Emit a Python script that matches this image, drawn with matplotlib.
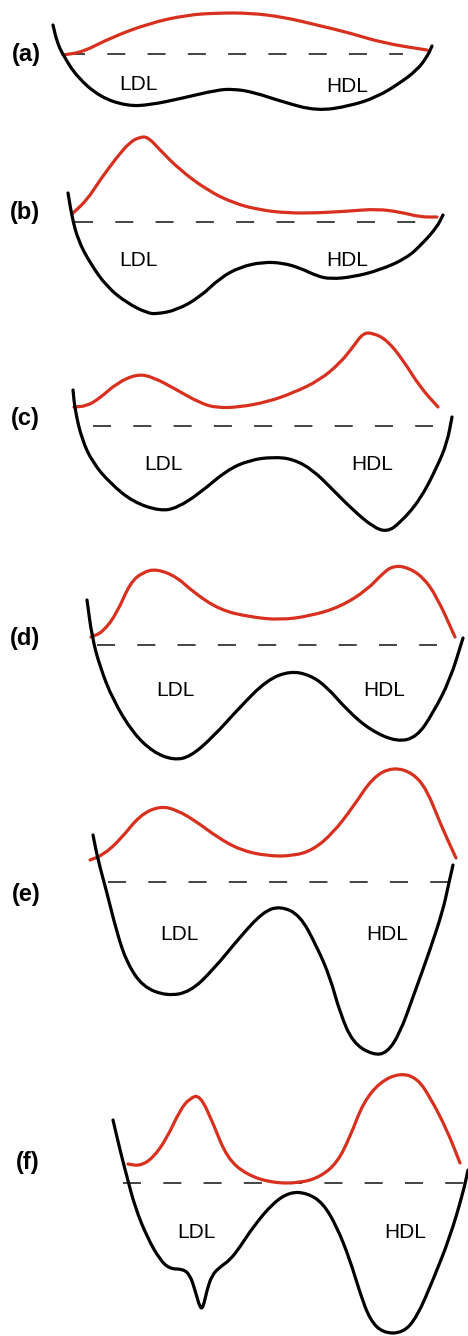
import matplotlib
matplotlib.use('Agg')
import matplotlib.pyplot as plt
from matplotlib.path import Path
from matplotlib.patches import PathPatch
import numpy as np

plt.rcParams['font.family'] = ['Liberation Sans', 'DejaVu Sans']
plt.rcParams['lines.scale_dashes'] = False

COLOR_WELL = "#000000"
COLOR_BARRIER = "#D8301F"

# --- Sketch data (page coordinates, y grows downward) ---
panel_tags = ["(a)", "(b)", "(c)", "(d)", "(e)", "(f)"]
tag_y = [54, 212, 418, 639, 894, 1162]
tag_x = [26, 25, 25, 25, 26, 28]

well_a = [(53, 25), (57, 42), (63, 55), (77, 77), (100, 97), (127, 106), (150, 105),
          (183, 98), (217, 90), (233, 89), (253, 92), (283, 102), (317, 111),
          (350, 106), (377, 97), (400, 83), (417, 70), (427, 57), (432, 46)]
barrier_a = [(63, 55), (83, 52), (110, 38), (150, 23), (187, 15), (217, 13),
             (250, 13), (283, 17), (317, 25), (350, 33), (383, 43), (427, 50)]

well_b = [(68, 193), (72, 217), (78, 240), (90, 263), (107, 287), (127, 303),
          (147, 313), (157, 314), (177, 310), (200, 297), (220, 278), (240, 267),
          (263, 262), (283, 263), (300, 268), (317, 276), (330, 279), (353, 277),
          (380, 270), (407, 258), (423, 243), (437, 227), (443, 215)]
barrier_b = [(73, 213), (87, 200), (100, 180), (117, 157), (130, 142), (140, 137),
             (148, 137), (160, 150), (180, 170), (207, 190), (233, 203), (260, 210),
             (287, 213), (317, 213), (350, 211), (377, 209), (400, 212), (420, 217),
             (437, 217)]

well_c = [(73, 390), (75, 410), (82, 440), (93, 463), (110, 483), (133, 502),
          (160, 511), (177, 508), (200, 493), (227, 470), (250, 460), (273, 457),
          (293, 459), (313, 470), (333, 490), (353, 510), (373, 527), (387, 532),
          (400, 523), (420, 500), (437, 467), (447, 443), (452, 417)]
barrier_c = [(74, 407), (87, 406), (100, 398), (117, 383), (137, 374), (153, 377),
             (177, 390), (200, 403), (217, 408), (240, 407), (267, 402), (293, 393),
             (320, 380), (340, 363), (353, 347), (363, 333), (373, 333), (387, 340),
             (403, 360), (420, 387), (438, 407)]

well_d = [(87, 600), (92, 637), (100, 667), (113, 700), (133, 733), (153, 752),
          (173, 760), (190, 757), (213, 737), (240, 707), (267, 680), (290, 671),
          (310, 675), (327, 687), (347, 710), (370, 730), (397, 742), (417, 737),
          (433, 713), (450, 680), (463, 638)]
barrier_d = [(91, 637), (103, 632), (117, 613), (130, 583), (143, 572), (157, 569),
             (177, 577), (193, 592), (220, 610), (250, 617), (280, 620), (310, 616),
             (340, 607), (367, 590), (383, 573), (393, 566), (407, 567), (423, 577),
             (437, 597), (455, 637)]

well_e = [(93, 835), (98, 860), (107, 893), (117, 933), (127, 963), (143, 987),
          (167, 996), (190, 992), (213, 970), (240, 937), (263, 912), (280, 906),
          (300, 915), (317, 947), (330, 977), (340, 1013), (353, 1043), (373, 1055),
          (387, 1053), (400, 1033), (413, 997), (430, 950), (443, 910), (448, 887),
          (453, 865)]
barrier_e = [(90, 860), (103, 855), (120, 840), (140, 815), (160, 806), (177, 810),
             (197, 822), (217, 837), (240, 850), (267, 856), (293, 856), (313, 850),
             (333, 833), (353, 807), (373, 777), (393, 767), (413, 773), (427, 790),
             (440, 823), (456, 858)]

well_f = [(113, 1120), (120, 1150), (127, 1177), (135, 1207), (147, 1237),
          (160, 1260), (170, 1269), (183, 1269), (190, 1275), (195, 1290),
          (200, 1308), (203, 1308), (207, 1290), (212, 1275), (220, 1267),
          (230, 1260), (240, 1247), (253, 1227), (273, 1203), (290, 1192),
          (307, 1193), (323, 1203), (337, 1227), (350, 1260), (360, 1293),
          (370, 1320), (383, 1333), (403, 1333), (417, 1317), (433, 1280),
          (450, 1237), (463, 1193), (468, 1170)]
barrier_f = [(128, 1164), (140, 1166), (153, 1158), (167, 1138), (180, 1110),
             (190, 1098), (200, 1095), (213, 1123), (227, 1158), (247, 1175),
             (273, 1183), (300, 1183), (320, 1177), (337, 1163), (350, 1137),
             (363, 1103), (380, 1082), (400, 1073), (417, 1078), (430, 1097),
             (447, 1130), (460, 1163)]

wells = [well_a, well_b, well_c, well_d, well_e, well_f]
barriers = [barrier_a, barrier_b, barrier_c, barrier_d, barrier_e, barrier_f]

# dashed reference level: (x_start, x_end, y)
level_x0 = [67, 75, 93, 97, 108, 123]
level_x1 = [403, 417, 433, 437, 448, 465]
level_y = [54, 222, 426, 645, 882, 1183]

ldl_pos = [(138, 85), (138, 260), (163, 465), (175, 691), (179, 935), (196, 1232)]
hdl_pos = [(347, 86), (347, 260), (372, 465), (384, 691), (387, 935), (405, 1232)]


def smooth_path(points):
    """Quadratic Bezier through midpoints of the sketched points."""
    pts = np.asarray(points, dtype=float)
    verts = [pts[0], (pts[0] + pts[1]) / 2]
    codes = [Path.MOVETO, Path.LINETO]
    for i in range(1, len(pts) - 1):
        verts += [pts[i], (pts[i] + pts[i + 1]) / 2]
        codes += [Path.CURVE3, Path.CURVE3]
    verts.append(pts[-1])
    codes.append(Path.LINETO)
    return Path(verts, codes)


fig = plt.figure(figsize=(4.68, 13.36), dpi=100, facecolor='white')
ax = fig.add_axes([0, 0, 1, 1])
ax.set_xlim(0, 468)
ax.set_ylim(1336, 0)
ax.axis('off')

for i in range(len(panel_tags)):
    ax.hlines(level_y[i], level_x0[i], level_x1[i], colors='#111111',
              linewidth=1.1, linestyles=(0, (13, 16)), zorder=1)
    ax.add_patch(PathPatch(smooth_path(wells[i]), facecolor='none',
                           edgecolor=COLOR_WELL, linewidth=2.3,
                           capstyle='round', joinstyle='round', zorder=3))
    ax.add_patch(PathPatch(smooth_path(barriers[i]), facecolor='none',
                           edgecolor=COLOR_BARRIER, linewidth=2.3,
                           capstyle='round', joinstyle='round', zorder=2))
    ax.text(tag_x[i], tag_y[i], panel_tags[i], ha='center', va='center',
            fontsize=17, fontweight='bold', color='black')
    ax.text(*ldl_pos[i], "LDL", ha='center', va='center', fontsize=15)
    ax.text(*hdl_pos[i], "HDL", ha='center', va='center', fontsize=15)

fig.savefig("out.png", dpi=100, facecolor='white')
